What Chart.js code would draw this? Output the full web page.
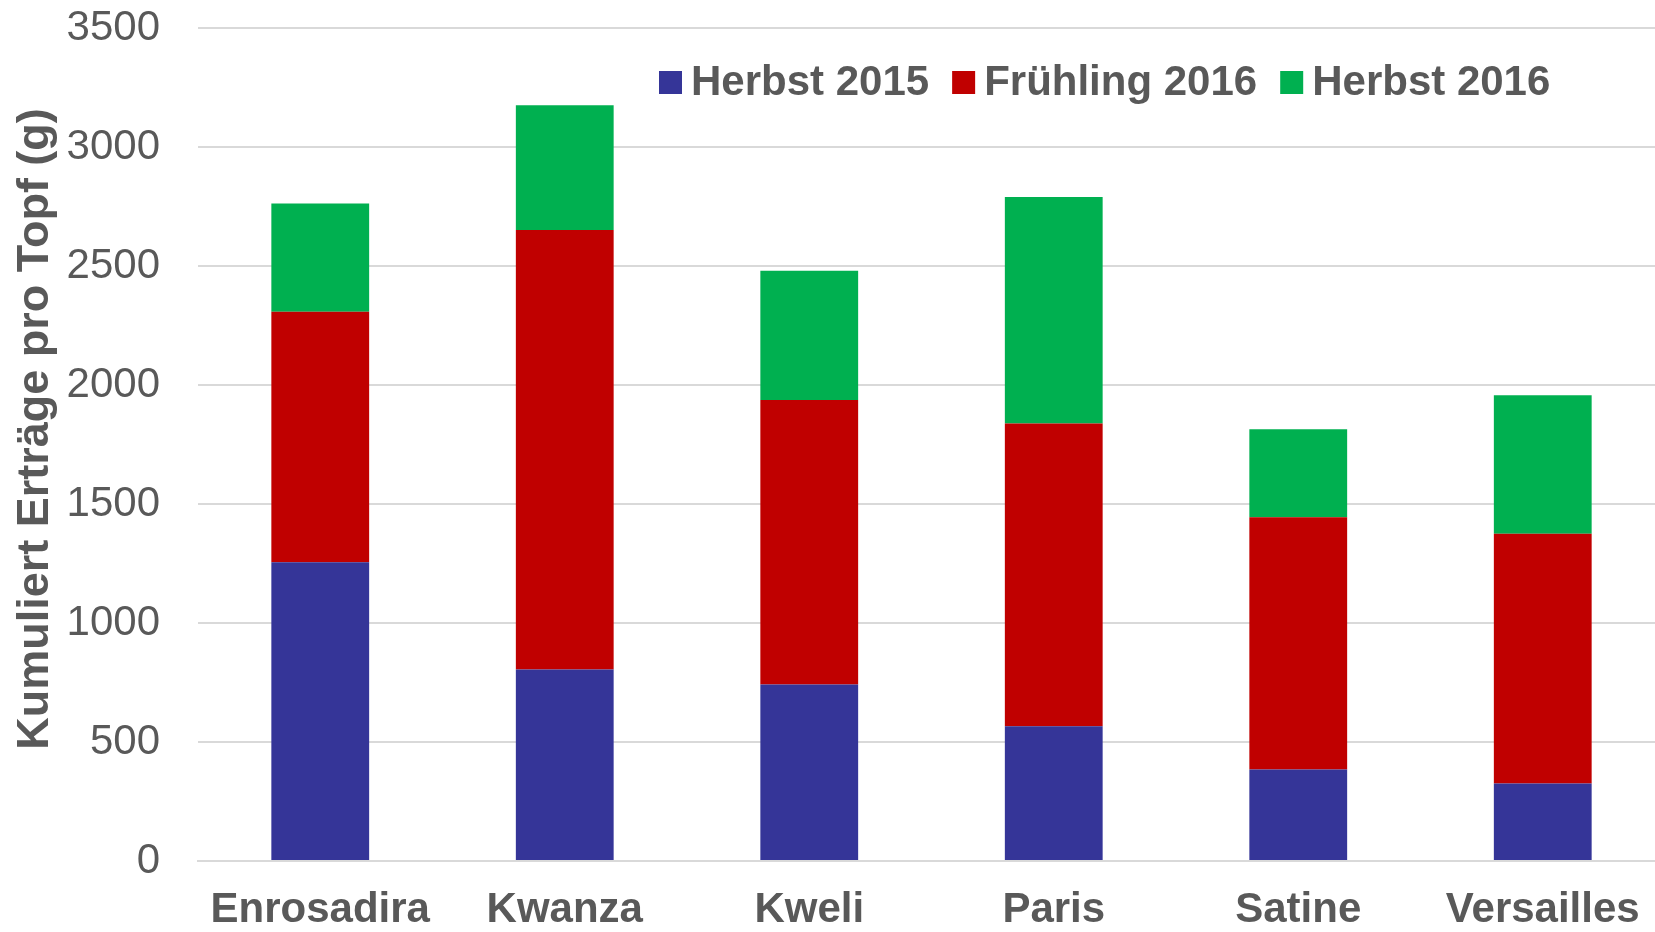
<!DOCTYPE html>
<html>
<head>
<meta charset="utf-8">
<script src="https://cdn.jsdelivr.net/npm/chart.js@4"></script>
<style>
  html, body { margin: 0; padding: 0; background: #fff; overflow: hidden; }
  #wrap { width: 1655px; height: 932px; overflow: hidden; }
</style>
</head>
<body>
<div id="wrap"><canvas id="chart" width="1665" height="932"></canvas></div>
<script>
// values (g per pot)
const sorten = ['Enrosadira', 'Kwanza', 'Kweli', 'Paris', 'Satine', 'Versailles'];
const herbst2015 = [1255, 805, 742, 566, 384, 326];
const fruehling2016 = [1053, 1846, 1195, 1272, 1060, 1049];
const herbst2016 = [455, 524, 543, 952, 370, 582];
const yTicks = [0, 500, 1000, 1500, 2000, 2500, 3000, 3500];
const yTitel = 'Kumuliert Erträge pro Topf (g)';

const grau = '#595959';
const schrift = "'Liberation Sans', Arial, sans-serif";

// legend inside the plot and the axis title, drawn by hand
const extras = {
  id: 'extras',
  afterDraw(chart) {
    const ctx = chart.ctx;
    ctx.save();
    ctx.font = 'bold 42px ' + schrift;
    ctx.textBaseline = 'middle';
    let x = 659;
    const y = 82;
    chart.data.datasets.forEach(ds => {
      ctx.fillStyle = ds.backgroundColor;
      ctx.fillRect(x, y - 11, 23, 23);
      x += 32;
      ctx.fillStyle = grau;
      ctx.fillText(ds.label, x, y + 1);
      x += ctx.measureText(ds.label).width + 23;
    });

    ctx.translate(36, 429);
    ctx.rotate(-Math.PI / 2);
    ctx.font = 'bold 45px ' + schrift;
    ctx.textAlign = 'center';
    ctx.fillStyle = grau;
    ctx.fillText(yTitel, 0, 0);
    ctx.restore();
  }
};

new Chart(document.getElementById('chart'), {
  type: 'bar',
  data: {
    labels: sorten,
    datasets: [
      { label: 'Herbst 2015', data: herbst2015, backgroundColor: '#353598' },
      { label: 'Frühling 2016', data: fruehling2016, backgroundColor: '#C00000' },
      { label: 'Herbst 2016', data: herbst2016, backgroundColor: '#00B050' }
    ]
  },
  options: {
    responsive: false,
    animation: false,
    layout: { padding: { top: 28, right: 0, left: 0, bottom: 0 } },
    datasets: { bar: { categoryPercentage: 1, barPercentage: 0.4, borderWidth: 0 } },
    plugins: {
      legend: { display: false },
      tooltip: { enabled: false }
    },
    scales: {
      x: {
        stacked: true,
        grid: { display: false, drawTicks: false },
        border: { color: '#D9D9D9', width: 2 },
        ticks: { color: grau, padding: 24, maxRotation: 0, font: { family: schrift, size: 42, weight: 'bold' } },
        afterFit(scale) {
          scale.height = 71;
          scale.paddingLeft = 0;
          scale.paddingRight = 0;
        }
      },
      y: {
        stacked: true,
        min: 0,
        max: 3500,
        afterBuildTicks(scale) { scale.ticks = yTicks.map(v => ({ value: v })); },
        grid: { color: '#D9D9D9', lineWidth: 2, drawTicks: false },
        border: { display: false },
        ticks: {
          color: grau,
          padding: 38,
          font: { family: schrift, size: 42 },
          callback: v => String(v)
        },
        afterFit(scale) {
          scale.width = 198;
          scale.paddingTop = 0;
          scale.paddingBottom = 0;
        }
      }
    }
  },
  plugins: [extras]
});
</script>
</body>
</html>
